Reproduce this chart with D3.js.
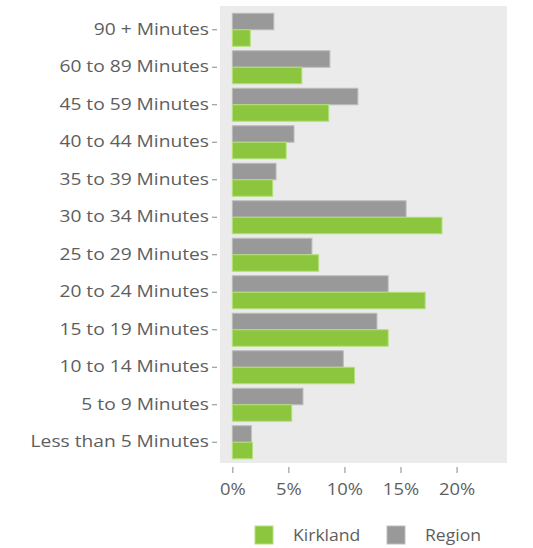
<!DOCTYPE html>
<html>
<head>
<meta charset="utf-8">
<script src="https://cdn.jsdelivr.net/npm/d3@7"></script>
<style>
  body { margin: 0; background: #fff; }
  text { font-family: "Open Sans", sans-serif; fill: #5e5e5e; }
</style>
</head>
<body>
<div id="chart"></div>
<script>
(function () {

  // Data
  const categories = ["90 + Minutes", "60 to 89 Minutes", "45 to 59 Minutes", "40 to 44 Minutes",
    "35 to 39 Minutes", "30 to 34 Minutes", "25 to 29 Minutes", "20 to 24 Minutes",
    "15 to 19 Minutes", "10 to 14 Minutes", "5 to 9 Minutes", "Less than 5 Minutes"]
  const region = [3.7, 8.7, 11.2, 5.5, 3.9, 15.5, 7.1, 13.9, 12.9, 9.9, 6.3, 1.7]
  const kirkland = [1.6, 6.2, 8.6, 4.8, 3.6, 18.7, 7.7, 17.2, 13.9, 10.9, 5.3, 1.8]
  const xTicks = [0, 5, 10, 15, 20]
  const series = ["Region", "Kirkland"]

  const width = 533
  const height = 548
  const panel = { left: 220, right: 507, top: 6, bottom: 463 }
  const stretch = 1.2  // the text in the reference is drawn a bit wide

  const colorScale = d3.scaleOrdinal()
    .domain(series)
    .range(["#999999", "#8cc63e"])

  const xScale = d3.scaleLinear()
    .domain([-1.1, 24.5])
    .range([panel.left, panel.right])

  const yScale = d3.scaleBand()
    .domain(categories)
    .range([panel.top + 5, panel.bottom - 2])
    .paddingInner(0.12)
    .paddingOuter(0.06)

  const innerScale = d3.scaleBand()
    .domain(series)
    .range([0, yScale.bandwidth()])

  const rows = categories.map((c, i) => ({ cat: c, Region: region[i], Kirkland: kirkland[i] }))

  const svg = d3.select("#chart").append("svg")
    .attr("width", width)
    .attr("height", height)

  // Panel background
  svg.append("rect")
    .attr("x", panel.left)
    .attr("y", panel.top)
    .attr("width", panel.right - panel.left)
    .attr("height", panel.bottom - panel.top)
    .attr("fill", "#ebebeb")

  // Bars
  const groups = svg.selectAll(".row")
    .data(rows)
    .join("g")
    .attr("class", "row")
    .attr("transform", d => `translate(0,${yScale(d.cat)})`)

  groups.selectAll("rect")
    .data(d => series.map(s => ({ key: s, value: d[s] })))
    .join("rect")
    .attr("x", xScale(0))
    .attr("y", d => innerScale(d.key))
    .attr("width", d => xScale(d.value) - xScale(0))
    .attr("height", innerScale.bandwidth())
    .attr("fill", d => colorScale(d.key))
    .attr("stroke", d => d.key == "Region" ? "#bdbdbd" : "#b5e07a")
    .attr("stroke-width", 1)

  // y axis
  const yAxis = d3.axisLeft(yScale).tickSize(5).tickPadding(3)
  const yg = svg.append("g")
    .attr("transform", `translate(${panel.left - 3},0)`)
    .call(yAxis)
  yg.select(".domain").remove()
  yg.selectAll("line").attr("stroke", "#888")
  yg.selectAll("text")
    .style("font-size", "16px")
    .attr("x", -8 / stretch)
    .attr("transform", `scale(${stretch},1)`)

  // x axis
  const xAxis = d3.axisBottom(xScale).tickValues(xTicks).tickFormat(d => d + "%").tickSize(6).tickPadding(11)
  const xg = svg.append("g")
    .attr("transform", `translate(0,${panel.bottom + 4})`)
    .call(xAxis)
  xg.select(".domain").remove()
  xg.selectAll("line").attr("stroke", "#888")
  xg.selectAll("text")
    .style("font-size", "16px")
    .attr("transform", `scale(1.15,1)`)

  // Legend
  const legendItems = [
    { key: "Kirkland", x: 255 },
    { key: "Region", x: 387 }
  ]
  const legend = svg.selectAll(".legend")
    .data(legendItems)
    .join("g")
    .attr("class", "legend")
    .attr("transform", d => `translate(${d.x},526)`)

  legend.append("rect")
    .attr("width", 18)
    .attr("height", 18)
    .attr("fill", d => colorScale(d.key))
    .attr("stroke", d => d.key == "Region" ? "#bdbdbd" : "#b5e07a")

  legend.append("text")
    .attr("x", 38 / 1.1)
    .attr("y", 9)
    .attr("dy", "0.35em")
    .attr("transform", "scale(1.1,1)")
    .style("font-size", "16px")
    .text(d => d.key)

})();
</script>
</body>
</html>
